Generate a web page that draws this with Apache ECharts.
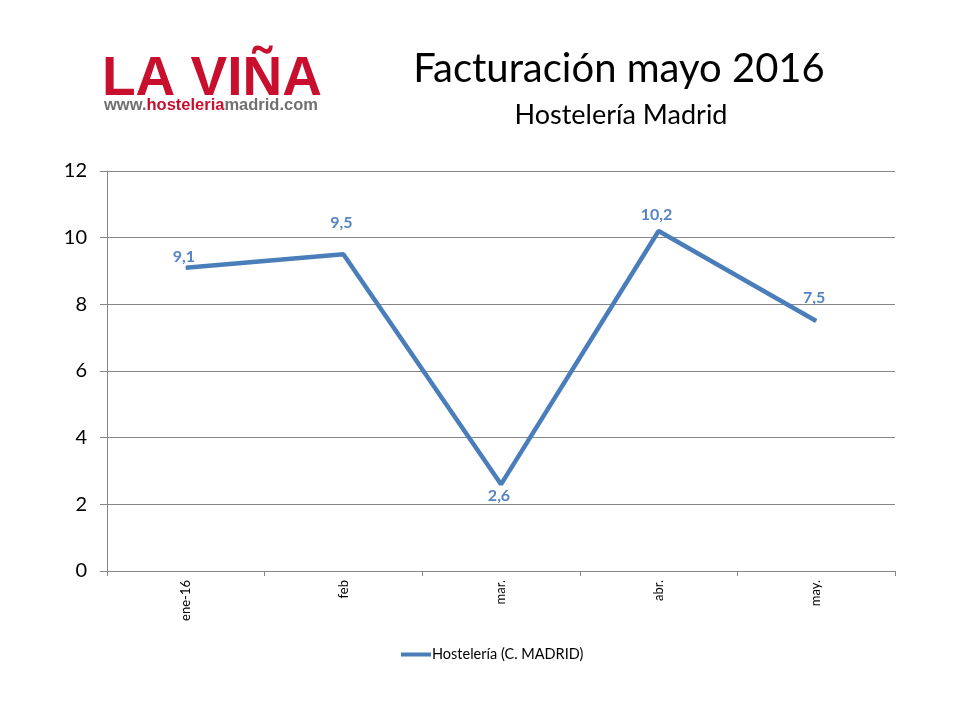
<!DOCTYPE html>
<html><head><meta charset="utf-8">
<script src="https://cdn.jsdelivr.net/npm/echarts@6/dist/echarts.min.js"></script>
<style>html,body{margin:0;padding:0;background:#fff}#c{width:960px;height:720px}</style>
</head><body><div id="c"></div>
<script>
const categories = ['ene-16', 'feb', 'mar.', 'abr.', 'may.'];
const values = [9.1, 9.5, 2.6, 10.2, 7.5];
const yTicks = [0, 2, 4, 6, 8, 10, 12];
const seriesName = 'Hostelería (C. MADRID)';
// label placement per point (style only)
const labelPos = ['top', 'top', 'bottom', 'top', 'top'];
const labelDist = [2, 23, 3, 8, 15];

const chart = echarts.init(document.getElementById('c'), null, {renderer: 'canvas'});
const font = 'Lato, "Open Sans", sans-serif';
chart.setOption({
  backgroundColor: '#fff',
  animation: false,
  title: [
    {text: 'Facturación mayo 2016', left: 614, top: 44, textAlign: 'center',
     textStyle: {fontFamily: font, fontSize: 40, fontWeight: 'normal', color: '#000'}},
    {text: 'Hostelería Madrid', left: 616, top: 97, textAlign: 'center',
     textStyle: {fontFamily: font, fontSize: 27, fontWeight: 'normal', color: '#000'}}
  ],
  graphic: [
    {type: 'text', left: 102, top: 52, style: {text: 'LA VIÑA', fontFamily: '"Liberation Sans", Arial, sans-serif', fontSize: 55, fontWeight: 'bold', fill: '#c8102e'}},
    {type: 'text', left: 104, top: 97, style: {
      text: '{g|www.}{r|hosteleria}{g|madrid.com}',
      rich: {
        g: {fontFamily: '"Liberation Sans", Arial, sans-serif', fontSize: 16.5, fontWeight: 'bold', fill: '#707070', color: '#707070'},
        r: {fontFamily: '"Liberation Sans", Arial, sans-serif', fontSize: 16.5, fontWeight: 'bold', fill: '#c8102e', color: '#c8102e'}
      }}}
  ],
  legend: {
    data: [seriesName], left: 396, top: 642,
    icon: 'rect', itemWidth: 30, itemHeight: 4, itemGap: 0,
    textStyle: {fontFamily: font, fontSize: 14.5, color: '#000', padding: [0, 0, 0, -4]}
  },
  grid: {left: 107, right: 65, top: 171, bottom: 149, containLabel: false},
  xAxis: {
    type: 'category', data: categories, boundaryGap: true,
    axisLine: {lineStyle: {color: '#868686'}},
    axisTick: {show: true, length: 5, lineStyle: {color: '#868686'}},
    axisLabel: {rotate: 90, fontFamily: font, fontSize: 13, color: '#000', margin: 9}
  },
  yAxis: {
    type: 'value', min: 0, max: 12, interval: 2,
    axisLine: {show: true, lineStyle: {color: '#868686'}},
    axisTick: {show: true, length: 7, lineStyle: {color: '#868686'}},
    splitLine: {lineStyle: {color: '#868686', width: 1}},
    axisLabel: {fontFamily: font, fontSize: 20, color: '#000', margin: 20,
      formatter: v => yTicks.includes(v) ? String(v) : ''}
  },
  series: [{
    name: seriesName, type: 'line',
    data: values.map((v, i) => ({value: v, label: {position: labelPos[i], distance: labelDist[i]}})),
    symbol: 'circle', symbolSize: 1, showSymbol: true,
    lineStyle: {color: '#4a7ebb', width: 4.5},
    itemStyle: {color: '#4a7ebb'},
    label: {show: true, position: 'top', distance: 10, offset: [-2, 0],
      fontFamily: font, fontSize: 16, fontWeight: 'bold', color: '#5584c4',
      formatter: p => String(p.value).replace('.', ',')}
  }]
});
</script></body></html>
